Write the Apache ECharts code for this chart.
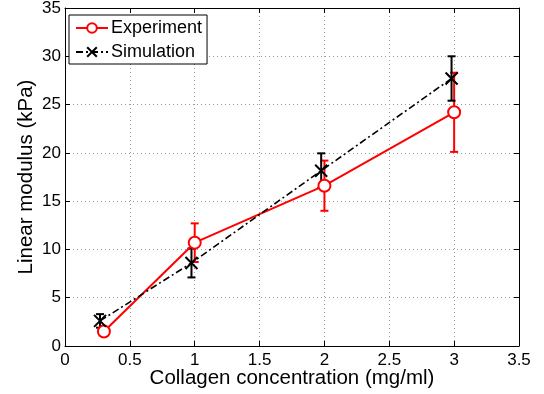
<!DOCTYPE html>
<html><head><meta charset="utf-8">
<script src="https://cdn.jsdelivr.net/npm/echarts@6/dist/echarts.min.js"></script>
<style>html,body{margin:0;padding:0;background:#fff}#c{width:544px;height:394px}</style>
</head><body><div id="c"></div>
<script>
const expX = [0.3, 1.0, 2.0, 3.0];
const expY = [1.5, 10.7, 16.6, 24.2];
const expErr = [0.3, 2.0, 2.6, 4.1];
const simX = [0.27, 0.975, 1.975, 2.98];
const simY = [2.6, 8.6, 18.15, 27.7];
const simErr = [0.7, 1.5, 1.8, 2.3];
const xTicks = [0, 0.5, 1, 1.5, 2, 2.5, 3, 3.5];
const yTicks = [0, 5, 10, 15, 20, 25, 30, 35];

const font = 'Liberation Sans, Arial, sans-serif';
const chart = echarts.init(document.getElementById('c'), null, {renderer: 'canvas'});

function errSeries(xs, ys, es, color) {
  return {
    type: 'custom', xAxisIndex: 0, yAxisIndex: 0, silent: true, z: 3,
    data: xs.map((x, i) => [x, ys[i] - es[i], ys[i] + es[i]]),
    renderItem: function (params, api) {
      const lo = api.coord([api.value(0), api.value(1)]);
      const hi = api.coord([api.value(0), api.value(2)]);
      const w = 4;
      const st = {stroke: color, lineWidth: 2};
      return {type: 'group', children: [
        {type: 'line', shape: {x1: lo[0], y1: lo[1], x2: hi[0], y2: hi[1]}, style: st},
        {type: 'line', shape: {x1: lo[0] - w, y1: lo[1], x2: lo[0] + w, y2: lo[1]}, style: st},
        {type: 'line', shape: {x1: hi[0] - w, y1: hi[1], x2: hi[0] + w, y2: hi[1]}, style: st}
      ]};
    }
  };
}

const axisCommonX = {type: 'value', min: 0, max: 3.5, interval: 0.5};
const axisCommonY = {type: 'value', min: 0, max: 35, interval: 5};

chart.setOption({
  animation: false,
  backgroundColor: '#fff',
  grid: {left: 65, right: 25, top: 8, bottom: 48, containLabel: false, outerBoundsMode: 'none'},
  legend: {
    left: 69, top: 15, orient: 'vertical',
    backgroundColor: '#fff', borderColor: '#000', borderWidth: 1, borderRadius: 0,
    padding: [3, 5, 2, 6], itemGap: 4, itemWidth: 32, itemHeight: 12,
    textStyle: {fontFamily: font, fontSize: 18, color: '#000', lineHeight: 20, padding: [0, 0, 0, -2]},
    data: ['Experiment', 'Simulation']
  },
  xAxis: [
    Object.assign({}, axisCommonX, {
      position: 'bottom',
      name: 'Collagen concentration (mg/ml)', nameLocation: 'middle', nameGap: 22,
      nameMoveOverlap: false,
      nameTextStyle: {fontFamily: font, fontSize: 20.5, color: '#000'},
      axisLine: {show: true, onZero: false, lineStyle: {color: '#000', width: 1}},
      axisTick: {show: true, inside: true, length: 5, lineStyle: {color: '#000'}},
      axisLabel: {fontFamily: font, fontSize: 17, color: '#000', margin: 6,
        formatter: v => String(v)},
      splitLine: {show: true, lineStyle: {color: '#999', type: [1, 3], width: 1}}
    }),
    Object.assign({}, axisCommonX, {
      position: 'top',
      axisLine: {show: true, onZero: false, lineStyle: {color: '#000', width: 1}},
      axisTick: {show: true, inside: true, length: 5, lineStyle: {color: '#000'}},
      axisLabel: {show: false}, splitLine: {show: false}
    })
  ],
  yAxis: [
    Object.assign({}, axisCommonY, {
      position: 'left',
      name: 'Linear modulus (kPa)', nameLocation: 'middle', nameGap: 28,
      nameMoveOverlap: false,
      nameTextStyle: {fontFamily: font, fontSize: 20.5, color: '#000'},
      axisLine: {show: true, onZero: false, lineStyle: {color: '#000', width: 1}},
      axisTick: {show: true, inside: true, length: 5, lineStyle: {color: '#000'}},
      axisLabel: {fontFamily: font, fontSize: 17, color: '#000', margin: 4},
      splitLine: {show: true, lineStyle: {color: '#999', type: [1, 3], width: 1}}
    }),
    Object.assign({}, axisCommonY, {
      position: 'right',
      axisLine: {show: true, onZero: false, lineStyle: {color: '#000', width: 1}},
      axisTick: {show: true, inside: true, length: 5, lineStyle: {color: '#000'}},
      axisLabel: {show: false}, splitLine: {show: false}
    })
  ],
  series: [
    errSeries(expX, expY, expErr, '#ff0000'),
    errSeries(simX, simY, simErr, '#000000'),
    {
      name: 'Experiment', type: 'line', z: 4,
      data: expX.map((x, i) => [x, expY[i]]),
      symbol: 'circle', symbolSize: 12, showAllSymbol: true,
      lineStyle: {color: '#ff0000', width: 2},
      itemStyle: {color: '#fff', borderColor: '#ff0000', borderWidth: 2},
      emphasis: {disabled: true}
    },
    {
      name: 'Simulation', type: 'line', z: 5,
      data: simX.map((x, i) => [x, simY[i]]),
      symbol: 'path://M0,0L10,10M10,0L0,10', symbolSize: 12, showAllSymbol: true,
      lineStyle: {color: '#000', width: 1.6, type: [7, 3, 2, 3]},
      itemStyle: {color: 'none', borderColor: '#000', borderWidth: 2},
      emphasis: {disabled: true}
    }
  ]
});
</script></body></html>
